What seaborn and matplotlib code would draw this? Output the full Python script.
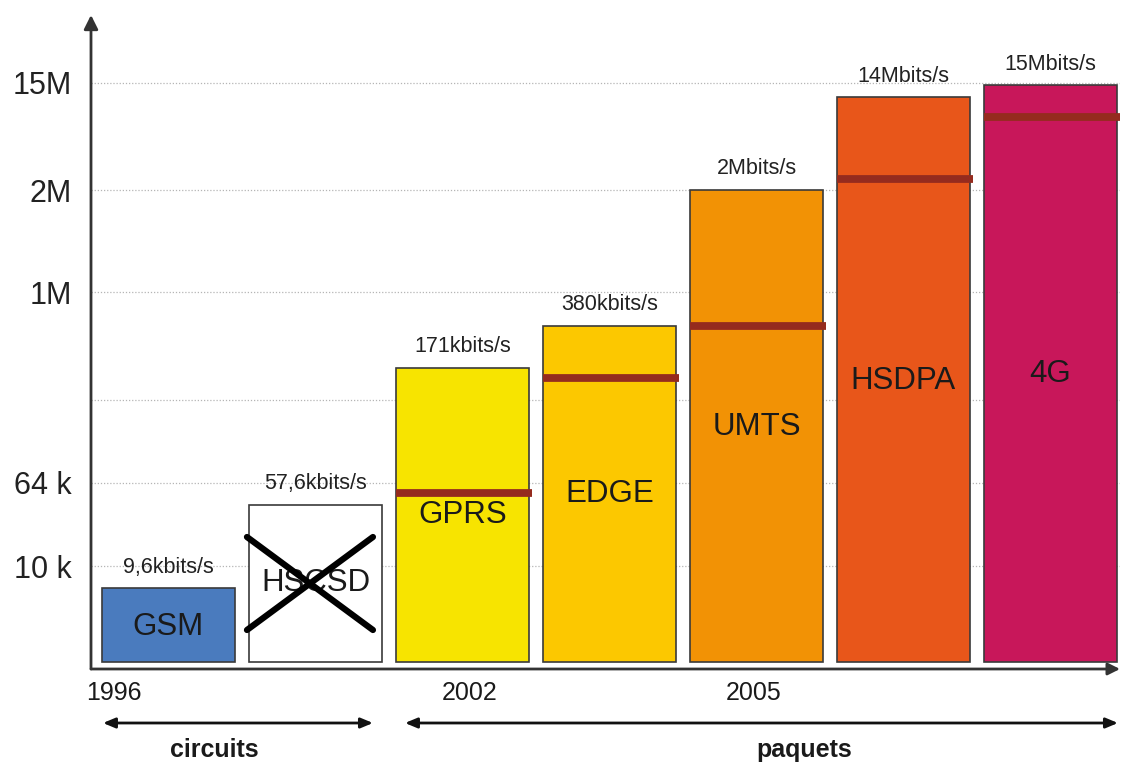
import matplotlib
matplotlib.use("Agg")
import matplotlib.pyplot as plt
import seaborn as sns
import pandas as pd

# ---- data ----
techs = ["GSM", "HSCSD", "GPRS", "EDGE", "UMTS", "HSDPA", "4G"]
# heights on the chart's own (non-linear) display scale
levels = [74, 157, 294, 336, 472, 565, 577]
# dark red "typical rate" marks, same display scale (None = no mark)
typical = [None, None, 169, 284, 336, 483, 545]
rate_labels = ["9,6kbits/s", "57,6kbits/s", "171kbits/s", "380kbits/s",
               "2Mbits/s", "14Mbits/s", "15Mbits/s"]
colors = ["#4A7BBE", "#FFFFFF", "#F7E400", "#FCC800", "#F29205", "#E8561A", "#C8175A"]
ytick_levels = [96, 179, 262, 370, 472, 579]
ytick_labels = ["10 k", "64 k", "", "1M", "2M", "15M"]
years = ["1996", "2002", "2005"]
year_pos = [-0.37, 2.05, 3.98]
# layout: name-label heights on the display scale
name_y = [35, 79, 147, 168, 235, 281, 288]

sns.set_theme(style="white")
plt.rcParams["font.family"] = ["Liberation Sans", "DejaVu Sans"]

df = pd.DataFrame({"tech": techs, "level": levels})

fig = plt.figure(figsize=(11.21, 7.67), dpi=100)
ax = fig.add_axes([91 / 1121, 98 / 767, 1029 / 1121, 654 / 767])

sns.barplot(data=df, x="tech", y="level", hue="tech", palette=colors,
            order=techs, hue_order=techs, width=0.905, edgecolor="#3a3a3a",
            linewidth=1.2, saturation=1, legend=False, ax=ax, zorder=3)

XMIN, XMAX = -0.527, 6.473
YMIN, YMAX = -7, 647
ax.set_xlim(XMIN, XMAX)
ax.set_ylim(YMIN, YMAX)

for s in ax.spines.values():
    s.set_visible(False)

ax.set_yticks(ytick_levels)
ax.set_yticklabels(ytick_labels, fontsize=22, color="#222222")
ax.tick_params(axis="y", length=0, pad=14)
ax.set_xticks([])
ax.set_xlabel("")
ax.set_ylabel("")
ax.yaxis.grid(True, linestyle=(0, (1, 1.5)), color="#b5b5b5", linewidth=0.9)
ax.set_axisbelow(True)

hw = 0.905 / 2
for i, t in enumerate(typical):
    if t is not None:
        ax.hlines(t, i - hw, i + hw + 0.02, color="#952B1E", linewidth=5.6, zorder=5)

for i, (lv, lab) in enumerate(zip(levels, rate_labels)):
    ax.text(i, lv + 21, lab, ha="center", va="center", fontsize=15.5, color="#222222", zorder=6)

for i, (nm, ny) in enumerate(zip(techs, name_y)):
    ax.text(i, ny, nm, ha="center", va="center", fontsize=22.5, color="#1a1a1a", zorder=6)

# cross over HSCSD
ax.plot([1 - 0.466, 1 + 0.391], [125, 32], color="black", linewidth=4.5,
        solid_capstyle="round", zorder=7)
ax.plot([1 - 0.466, 1 + 0.391], [32, 125], color="black", linewidth=4.5,
        solid_capstyle="round", zorder=7)

# axes with arrows
ax.annotate("", xy=(XMIN, YMAX), xytext=(XMIN, YMIN), annotation_clip=False,
            arrowprops=dict(arrowstyle="-|>,head_length=0.7,head_width=0.35",
                            color="#333333", lw=2, shrinkA=0, shrinkB=0))
ax.annotate("", xy=(XMAX, YMIN), xytext=(XMIN, YMIN), annotation_clip=False,
            arrowprops=dict(arrowstyle="-|>,head_length=0.6,head_width=0.3",
                            color="#333333", lw=2, shrinkA=0, shrinkB=0))

for yr, xp in zip(years, year_pos):
    ax.text(xp, -31, yr, ha="center", va="center", fontsize=18, color="#1a1a1a", clip_on=False)

# circuits / paquets double arrows
ax.annotate("", xy=((103 - 168.5) / 147, -61), xytext=((373 - 168.5) / 147, -61),
            annotation_clip=False,
            arrowprops=dict(arrowstyle="<|-|>,head_length=0.6,head_width=0.25",
                            color="#111111", lw=2, shrinkA=0, shrinkB=0))
ax.annotate("", xy=((405 - 168.5) / 147, -61), xytext=((1118 - 168.5) / 147, -61),
            annotation_clip=False,
            arrowprops=dict(arrowstyle="<|-|>,head_length=0.6,head_width=0.25",
                            color="#111111", lw=2, shrinkA=0, shrinkB=0))
ax.text((214 - 168.5) / 147, -88, "circuits", ha="center", va="center",
        fontsize=18, fontweight="bold", color="#1a1a1a", clip_on=False)
ax.text((804 - 168.5) / 147, -88, "paquets", ha="center", va="center",
        fontsize=18, fontweight="bold", color="#1a1a1a", clip_on=False)

fig.savefig("out.png", dpi=100)
